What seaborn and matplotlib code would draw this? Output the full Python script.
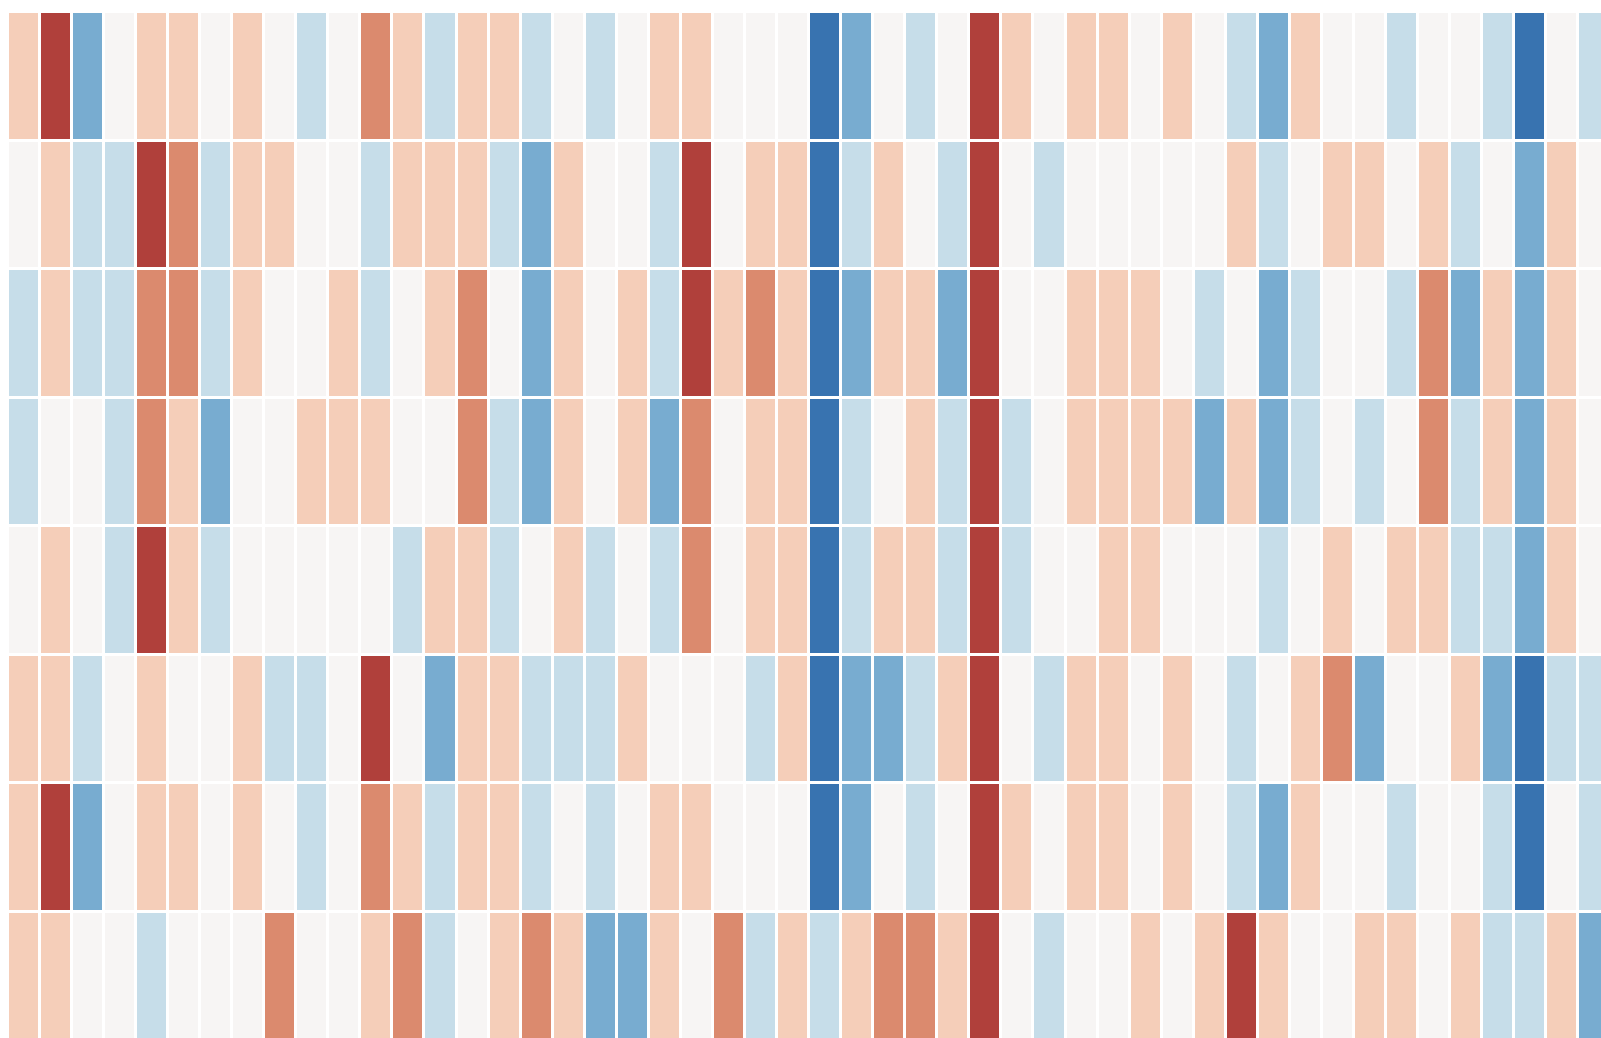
import numpy as np
import pandas as pd
import matplotlib
matplotlib.use("Agg")
import matplotlib.pyplot as plt
from matplotlib.colors import ListedColormap
import seaborn as sns

# levels: -3 strong blue ... 0 neutral ... 3 strong red
row_0 = [1, 3, -2, 0, 1, 1, 0, 1, 0, -1, 0, 2, 1, -1, 1, 1, -1, 0, -1, 0,
         1, 1, 0, 0, 0, -3, -2, 0, -1, 0, 3, 1, 0, 1, 1, 0, 1, 0, -1, -2,
         1, 0, 0, -1, 0, 0, -1, -3, 0, -1]
row_1 = [0, 1, -1, -1, 3, 2, -1, 1, 1, 0, 0, -1, 1, 1, 1, -1, -2, 1, 0, 0,
         -1, 3, 0, 1, 1, -3, -1, 1, 0, -1, 3, 0, -1, 0, 0, 0, 0, 0, 1, -1,
         0, 1, 1, 0, 1, -1, 0, -2, 1, 0]
row_2 = [-1, 1, -1, -1, 2, 2, -1, 1, 0, 0, 1, -1, 0, 1, 2, 0, -2, 1, 0, 1,
         -1, 3, 1, 2, 1, -3, -2, 1, 1, -2, 3, 0, 0, 1, 1, 1, 0, -1, 0, -2,
         -1, 0, 0, -1, 2, -2, 1, -2, 1, 0]
row_3 = [-1, 0, 0, -1, 2, 1, -2, 0, 0, 1, 1, 1, 0, 0, 2, -1, -2, 1, 0, 1,
         -2, 2, 0, 1, 1, -3, -1, 0, 1, -1, 3, -1, 0, 1, 1, 1, 1, -2, 1, -2,
         -1, 0, -1, 0, 2, -1, 1, -2, 1, 0]
row_4 = [0, 1, 0, -1, 3, 1, -1, 0, 0, 0, 0, 0, -1, 1, 1, -1, 0, 1, -1, 0,
         -1, 2, 0, 1, 1, -3, -1, 1, 1, -1, 3, -1, 0, 0, 1, 1, 0, 0, 0, -1,
         0, 1, 0, 1, 1, -1, -1, -2, 1, 0]
row_5 = [1, 1, -1, 0, 1, 0, 0, 1, -1, -1, 0, 3, 0, -2, 1, 1, -1, -1, -1, 1,
         0, 0, 0, -1, 1, -3, -2, -2, -1, 1, 3, 0, -1, 1, 1, 0, 1, 0, -1, 0,
         1, 2, -2, 0, 0, 1, -2, -3, -1, -1]
row_6 = [1, 3, -2, 0, 1, 1, 0, 1, 0, -1, 0, 2, 1, -1, 1, 1, -1, 0, -1, 0,
         1, 1, 0, 0, 0, -3, -2, 0, -1, 0, 3, 1, 0, 1, 1, 0, 1, 0, -1, -2,
         1, 0, 0, -1, 0, 0, -1, -3, 0, -1]
row_7 = [1, 1, 0, 0, -1, 0, 0, 0, 2, 0, 0, 1, 2, -1, 0, 1, 2, 1, -2, -2,
         1, 0, 2, -1, 1, -1, 1, 2, 2, 1, 3, 0, -1, 0, 0, 1, 0, 1, 3, 1,
         0, 0, 1, 1, 0, 1, -1, -1, 1, -2]

data = pd.DataFrame([row_0, row_1, row_2, row_3, row_4, row_5, row_6, row_7])

colors = ["#3873b0", "#78acd0", "#c6dde9", "#f7f5f4",
          "#f5ceb9", "#db8a6e", "#b0403b"]
cmap = ListedColormap(colors)

fig = plt.figure(figsize=(16.01, 10.38), dpi=100)
ax = fig.add_axes([0.00425, -0.0012, 1.001, 0.9904])
sns.heatmap(data, cmap=cmap, vmin=-3.5, vmax=3.5, cbar=False,
            linewidths=2.1, linecolor="white",
            xticklabels=False, yticklabels=False, ax=ax)
ax.axis("off")

fig.savefig("out.png", dpi=100, facecolor="white")
